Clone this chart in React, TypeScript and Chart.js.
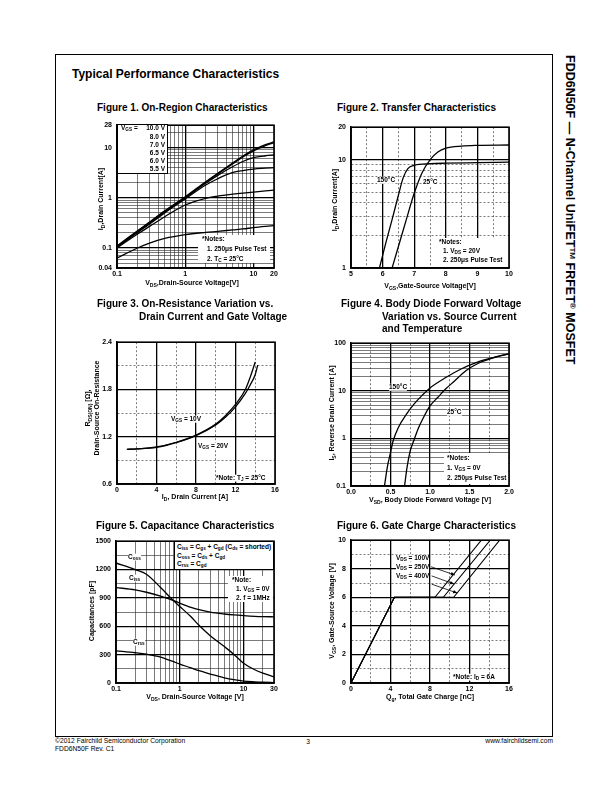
import React, { useEffect, useRef } from 'react';
import { Chart, registerables } from 'chart.js';

Chart.register(...registerables);

const FONT = '"Liberation Sans", Arial, Helvetica, sans-serif';
const YW = 34, PT = 8, PR = 12, XH = 14;

// ---------------- Figure 1: On-Region Characteristics ----------------
const f1X = [0.1, 0.2, 0.3, 0.5, 1, 2, 3, 5, 7, 10, 15, 20];
const f1Vgs100 = [0.11, 0.22, 0.33, 0.55, 1.05, 2.1, 3.1, 5.0, 6.8, 9.0, 11.5, 13.0];
const f1Vgs80 = [0.108, 0.215, 0.32, 0.53, 1.02, 2.05, 3.0, 4.8, 6.5, 8.6, 11.0, 12.5];
const f1Vgs70 = [0.106, 0.21, 0.31, 0.52, 1.0, 1.95, 2.8, 4.2, 5.3, 6.3, 6.9, 7.2];
const f1Vgs65 = [0.104, 0.205, 0.3, 0.5, 0.95, 1.8, 2.4, 3.2, 3.5, 3.75, 3.9, 4.0];
const f1Vgs60 = [0.1, 0.19, 0.27, 0.42, 0.72, 0.98, 1.08, 1.18, 1.24, 1.3, 1.37, 1.42];
const f1Vgs55 = [0.063, 0.1, 0.125, 0.155, 0.185, 0.205, 0.215, 0.23, 0.24, 0.255, 0.27, 0.28];
const f1LegendLabels = ['10.0 V', '8.0 V', '7.0 V', '6.5 V', '6.0 V', '5.5 V'];
const f1XGrid = [0.1, 0.2, 0.3, 0.4, 0.5, 0.6, 0.7, 0.8, 0.9, 1, 2, 3, 4, 5, 6, 7, 8, 9, 10, 20];
const f1XLabelVals = [0.1, 1, 10, 20];
const f1XLabels = ['0.1', '1', '10', '20'];
const f1YGrid = [0.04, 0.05, 0.06, 0.07, 0.08, 0.09, 0.1, 0.2, 0.3, 0.4, 0.5, 0.6, 0.7, 0.8, 0.9, 1, 2, 3, 4, 5, 6, 7, 8, 9, 10, 20, 28];
const f1YLabelVals = [0.04, 0.1, 1, 10, 28];
const f1YLabels = ['0.04', '0.1', '1', '10', '28'];

// ---------------- Figure 2: Transfer Characteristics ----------------
const f2X150 = [5.9, 6.1, 6.3, 6.5, 6.65, 6.8, 7.0, 7.5, 8.0, 9.0, 10.0];
const f2Y150 = [1.0, 1.7, 2.8, 4.7, 6.8, 8.3, 8.9, 9.2, 9.3, 9.4, 9.5];
const f2X25 = [6.3, 6.5, 6.75, 7.0, 7.25, 7.5, 7.75, 8.0, 8.5, 9.0, 10.0];
const f2Y25 = [1.0, 1.58, 2.8, 4.9, 7.6, 10.0, 11.8, 12.8, 13.4, 13.6, 13.7];
const f2XGrid = [5, 5.5, 6, 6.5, 7, 7.5, 8, 8.5, 9, 9.5, 10];
const f2XLabelVals = [5, 6, 7, 8, 9, 10];
const f2XLabels = ['5', '6', '7', '8', '9', '10'];
const f2YGrid = [1, 2, 3, 4, 5, 6, 7, 8, 9, 10, 20];
const f2YLabelVals = [1, 10, 20];
const f2YLabels = ['1', '10', '20'];

// ---------------- Figure 3: On-Resistance ----------------
const f3X10 = [1, 2, 4, 6, 8, 10, 11, 12, 13, 13.5, 14.0];
const f3Y10 = [1.04, 1.045, 1.07, 1.13, 1.22, 1.36, 1.47, 1.61, 1.8, 1.96, 2.15];
const f3X20 = [1, 2, 4, 6, 8, 10, 11, 12, 13, 13.5, 14.0, 14.25];
const f3Y20 = [1.04, 1.045, 1.065, 1.125, 1.215, 1.35, 1.45, 1.58, 1.75, 1.86, 1.99, 2.11];
const f3XGrid = [0, 2, 4, 6, 8, 10, 12, 14, 16];
const f3XLabelVals = [0, 4, 8, 12, 16];
const f3XLabels = ['0', '4', '8', '12', '16'];
const f3YGrid = [0.6, 0.9, 1.2, 1.5, 1.8, 2.1, 2.4];
const f3YLabelVals = [0.6, 1.2, 1.8, 2.4];
const f3YLabels = ['0.6', '1.2', '1.8', '2.4'];

// ---------------- Figure 4: Body Diode ----------------
const f4X150 = [0.424, 0.46, 0.5, 0.53, 0.6, 0.7, 0.8, 0.9, 1.0, 1.2, 1.4, 1.6, 1.8, 2.0];
const f4Y150 = [0.1, 0.25, 0.5, 0.85, 1.7, 3.2, 5.3, 8.0, 11.5, 19, 29, 40, 50, 60];
const f4X25 = [0.678, 0.71, 0.75, 0.8, 0.85, 0.9, 1.0, 1.1, 1.2, 1.3, 1.45, 1.6, 1.8, 2.0];
const f4Y25 = [0.1, 0.25, 0.55, 0.95, 1.6, 2.4, 4.8, 7.3, 11, 15.5, 26, 37, 49, 60];
const f4XGrid = [0, 0.25, 0.5, 0.75, 1, 1.25, 1.5, 1.75, 2];
const f4XLabelVals = [0, 0.5, 1, 1.5, 2];
const f4XLabels = ['0.0', '0.5', '1.0', '1.5', '2.0'];
const f4YGrid = [0.1, 0.2, 0.3, 0.4, 0.5, 0.6, 0.7, 0.8, 0.9, 1, 2, 3, 4, 5, 6, 7, 8, 9, 10, 20, 30, 40, 50, 60, 70, 80, 90, 100];
const f4YLabelVals = [0.1, 1, 10, 100];
const f4YLabels = ['0.1', '1', '10', '100'];

// ---------------- Figure 5: Capacitance ----------------
const f5X = [0.1, 0.2, 0.3, 0.5, 0.8, 1, 1.5, 2, 3, 5, 7, 10, 15, 20, 30];
const f5Coss = [1270, 1200, 1150, 1010, 870, 810, 700, 610, 500, 385, 305, 210, 140, 105, 65];
const f5Ciss = [1010, 985, 960, 920, 872, 845, 800, 775, 750, 730, 720, 712, 705, 702, 700];
const f5Crss = [340, 320, 305, 275, 225, 200, 160, 130, 95, 55, 35, 20, 12, 8, 5];
const f5XGrid = [0.1, 0.2, 0.3, 0.4, 0.5, 0.6, 0.7, 0.8, 0.9, 1, 2, 3, 4, 5, 6, 7, 8, 9, 10, 20, 30];
const f5XLabelVals = [0.1, 1, 10, 30];
const f5XLabels = ['0.1', '1', '10', '30'];
const f5YGrid = [0, 150, 300, 450, 600, 750, 900, 1050, 1200, 1350, 1500];
const f5YLabelVals = [0, 300, 600, 900, 1200, 1500];
const f5YLabels = ['0', '300', '600', '900', '1200', '1500'];

// ---------------- Figure 6: Gate Charge ----------------
const f6X100 = [0, 4.4, 8.5, 13.2];
const f6X250 = [0, 4.4, 9.35, 14.1];
const f6X400 = [0, 4.4, 10.4, 15.05];
const f6Y = [0, 6, 6, 10];
const f6ArrowFromX = [8.1, 8.17, 8.17];
const f6ArrowFromY = [8.14, 7.5, 6.92];
const f6ArrowToX = [10.53, 10.44, 10.76];
const f6ArrowToY = [7.56, 6.93, 6.3];
const f6XGrid = [0, 2, 4, 6, 8, 10, 12, 14, 16];
const f6XLabelVals = [0, 4, 8, 12, 16];
const f6XLabels = ['0', '4', '8', '12', '16'];
const f6YGrid = [0, 1, 2, 3, 4, 5, 6, 7, 8, 9, 10];
const f6YLabelVals = [0, 2, 4, 6, 8, 10];
const f6YLabels = ['0', '2', '4', '6', '8', '10'];

// ---------------- helpers ----------------
type AxisSpec = {
  type: 'linear' | 'logarithmic';
  min: number; max: number;
  grid: number[]; labelVals: number[]; labels: string[];
  majors: number[]; dash: boolean;
};

const near = (a: number, b: number) => Math.abs(a - b) <= 1e-9 * Math.max(1, Math.abs(a), Math.abs(b));
const pts = (xs: number[], ys: number[]) => xs.map((x, i) => ({ x, y: ys[i] }));

function scaleOpts(a: AxisSpec, horizontal: boolean) {
  const isMajor = (v: number) => a.majors.some((m) => near(m, v));
  const isEdge = (v: number) => near(v, a.min) || near(v, a.max);
  return {
    type: a.type,
    min: a.min,
    max: a.max,
    afterBuildTicks: (s: any) => { s.ticks = a.grid.map((v) => ({ value: v })); },
    afterFit: (s: any) => { if (horizontal) s.height = XH; else s.width = YW; },
    ticks: {
      autoSkip: false, maxRotation: 0, minRotation: 0,
      padding: horizontal ? 2 : 5,
      color: '#000',
      font: { family: FONT, size: 7, weight: 'bold' },
      callback: (v: number) => {
        const i = a.labelVals.findIndex((l) => near(l, v));
        return i >= 0 ? a.labels[i] : '';
      },
    },
    grid: {
      drawTicks: false,
      color: (c: any) => (c.tick && (isMajor(c.tick.value) || isEdge(c.tick.value)) ? '#000' : '#222'),
      lineWidth: (c: any) => (c.tick && isMajor(c.tick.value) ? 1.3 : 0.6),
    },
    border: {
      display: true, color: '#000', width: 1.5,
      dash: (c: any) => (a.dash && c.tick && !isMajor(c.tick.value) && !isEdge(c.tick.value) ? [2, 2] : []),
    },
  };
}

const framePlugin = {
  id: 'frame',
  afterDraw(chart: any) {
    const { ctx, chartArea: a } = chart;
    ctx.save();
    ctx.strokeStyle = '#000';
    ctx.lineWidth = 1.6;
    ctx.strokeRect(a.left, a.top, a.right - a.left, a.bottom - a.top);
    ctx.restore();
  },
};

const arrowPlugin = {
  id: 'arrows',
  afterDatasetsDraw(chart: any) {
    const { ctx, scales } = chart;
    ctx.save();
    ctx.strokeStyle = '#000';
    ctx.fillStyle = '#000';
    ctx.lineWidth = 0.8;
    for (let i = 0; i < f6ArrowFromX.length; i++) {
      const x0 = scales.x.getPixelForValue(f6ArrowFromX[i]);
      const y0 = scales.y.getPixelForValue(f6ArrowFromY[i]);
      const x1 = scales.x.getPixelForValue(f6ArrowToX[i]);
      const y1 = scales.y.getPixelForValue(f6ArrowToY[i]);
      ctx.beginPath(); ctx.moveTo(x0, y0); ctx.lineTo(x1, y1); ctx.stroke();
      const ang = Math.atan2(y1 - y0, x1 - x0);
      const h = 4.5;
      ctx.beginPath();
      ctx.moveTo(x1, y1);
      ctx.lineTo(x1 - h * Math.cos(ang - 0.4), y1 - h * Math.sin(ang - 0.4));
      ctx.lineTo(x1 - h * Math.cos(ang + 0.4), y1 - h * Math.sin(ang + 0.4));
      ctx.closePath(); ctx.fill();
    }
    ctx.restore();
  },
};

type Series = { xs: number[]; ys: number[]; w?: number };

function Plot(props: { rect: number[]; x: AxisSpec; y: AxisSpec; series: Series[]; smooth?: boolean; extra?: any[] }) {
  const ref = useRef<HTMLCanvasElement>(null);
  const [L, T, R, B] = props.rect;
  const W = R - L + YW + PR;
  const H = B - T + PT + XH;
  useEffect(() => {
    const smooth = props.smooth !== false;
    const chart = new Chart(ref.current as HTMLCanvasElement, {
      type: 'scatter',
      data: {
        datasets: props.series.map((s) => ({
          data: pts(s.xs, s.ys),
          showLine: true,
          borderColor: '#000',
          backgroundColor: '#000',
          borderWidth: s.w ?? 1.3,
          pointRadius: 0,
          pointHoverRadius: 0,
          fill: false,
          cubicInterpolationMode: smooth ? 'monotone' : 'default',
          tension: 0,
        })),
      },
      options: {
        animation: false,
        responsive: false,
        devicePixelRatio: 1,
        events: [],
        layout: { padding: { left: 0, top: PT, right: PR, bottom: 0 } },
        plugins: { legend: { display: false }, tooltip: { enabled: false } },
        scales: { x: scaleOpts(props.x, true), y: scaleOpts(props.y, false) } as any,
      },
      plugins: [framePlugin, ...(props.extra || [])],
    } as any);
    return () => chart.destroy();
  }, []);
  return (
    <canvas
      ref={ref}
      width={W}
      height={H}
      style={{ position: 'absolute', left: L - YW, top: T - PT, width: W, height: H }}
    />
  );
}

const Sb = ({ c }: { c: string }) => (
  <span style={{ fontSize: '0.72em', position: 'relative', top: '0.3em' }}>{c}</span>
);
const Sp = ({ c }: { c: string }) => (
  <span style={{ fontSize: '0.65em', position: 'relative', top: '-0.45em' }}>{c}</span>
);

function Txt(props: { x: number; y: number; size?: number; bold?: boolean; align?: 'left' | 'center' | 'right'; bg?: string; rot?: boolean; children: any }) {
  const { x, y, size = 6.5, bold = true, align = 'left', bg, rot } = props;
  const tx = align === 'left' ? '0' : align === 'center' ? '-50%' : '-100%';
  return (
    <div
      style={{
        position: 'absolute', left: x, top: y,
        transform: rot ? 'translate(-50%, -50%) rotate(-90deg)' : `translate(${tx}, -50%)`,
        fontFamily: FONT, fontSize: size, fontWeight: bold ? 700 : 400,
        lineHeight: 1, whiteSpace: 'nowrap', color: '#000', background: bg,
      }}
    >
      {props.children}
    </div>
  );
}

function Box(props: { x: number; y: number; w: number; h: number; border?: boolean }) {
  return (
    <div
      style={{
        position: 'absolute', left: props.x, top: props.y, width: props.w, height: props.h,
        boxSizing: 'border-box', background: '#fff',
        border: props.border ? '1px solid #000' : 'none',
      }}
    />
  );
}

const Title = (p: { x: number; y: number; children: any }) => (
  <Txt x={p.x} y={p.y} size={10}>{p.children}</Txt>
);
const AxT = (p: { x: number; y: number; rot?: boolean; children: any }) => (
  <Txt x={p.x} y={p.y} size={7} align="center" rot={p.rot}>{p.children}</Txt>
);

export default function App() {
  const f1Rows = [128, 137, 145, 153, 161, 169];
  return (
    <div style={{ position: 'absolute', left: 0, top: 0, width: 612, height: 792, background: '#fff', overflow: 'hidden' }}>
      {/* page frame */}
      <div style={{ position: 'absolute', left: 55, top: 54, width: 498, height: 683, boxSizing: 'border-box', border: '1.2px solid #000' }} />
      <Txt x={72} y={74} size={12}>Typical Performance Characteristics</Txt>

      {/* side text */}
      <div
        style={{
          position: 'absolute', left: 576, top: 55, transformOrigin: '0 0', transform: 'rotate(90deg)',
          fontFamily: FONT, fontSize: 12.5, fontWeight: 700, lineHeight: 1, whiteSpace: 'nowrap', color: '#000',
        }}
      >
        FDD6N50F — N-Channel UniFET<Sp c="TM" /> FRFET<Sp c="®" /> MOSFET
      </div>

      {/* footer */}
      <Txt x={55} y={741} size={6.7} bold={false}>©2012 Fairchild Semiconductor Corporation</Txt>
      <Txt x={55} y={749} size={6.7} bold={false}>FDD6N50F Rev. C1</Txt>
      <Txt x={308} y={742} size={6.7} bold={false} align="center">3</Txt>
      <Txt x={553} y={741} size={6.7} bold={false} align="right">www.fairchildsemi.com</Txt>

      {/* ---------- Figure 1 ---------- */}
      <Title x={97} y={108}>Figure 1. On-Region Characteristics</Title>
      <Plot
        rect={[117, 124, 274, 268]}
        x={{ type: 'logarithmic', min: 0.1, max: 20, grid: f1XGrid, labelVals: f1XLabelVals, labels: f1XLabels, majors: [1, 10], dash: false }}
        y={{ type: 'logarithmic', min: 0.04, max: 28, grid: f1YGrid, labelVals: f1YLabelVals, labels: f1YLabels, majors: [0.1, 1, 10], dash: false }}
        series={[
          { xs: f1X, ys: f1Vgs100 }, { xs: f1X, ys: f1Vgs80 }, { xs: f1X, ys: f1Vgs70 },
          { xs: f1X, ys: f1Vgs65 }, { xs: f1X, ys: f1Vgs60 }, { xs: f1X, ys: f1Vgs55 },
        ]}
      />
      <Box x={117} y={124} w={51} h={50} border />
      <Txt x={121} y={f1Rows[0]}>V<Sb c="GS" /> =</Txt>
      {f1LegendLabels.map((l, i) => (
        <Txt key={l} x={165} y={f1Rows[i]} align="right">{l}</Txt>
      ))}
      <Box x={198} y={235} w={72} h={28} />
      <Txt x={202} y={239}>*Notes:</Txt>
      <Txt x={207} y={249}>1. 250μs Pulse Test</Txt>
      <Txt x={207} y={259}>2. T<Sb c="C" /> = 25°C</Txt>
      <AxT x={101} y={199} rot>I<Sb c="D" />,Drain Current[A]</AxT>
      <AxT x={192} y={283}>V<Sb c="DS" />,Drain-Source Voltage[V]</AxT>

      {/* ---------- Figure 2 ---------- */}
      <Title x={337} y={108}>Figure 2. Transfer Characteristics</Title>
      <Plot
        rect={[351, 126, 509, 268]}
        x={{ type: 'linear', min: 5, max: 10, grid: f2XGrid, labelVals: f2XLabelVals, labels: f2XLabels, majors: [6, 7, 8, 9], dash: true }}
        y={{ type: 'logarithmic', min: 1, max: 20, grid: f2YGrid, labelVals: f2YLabelVals, labels: f2YLabels, majors: [10], dash: true }}
        series={[{ xs: f2X150, ys: f2Y150 }, { xs: f2X25, ys: f2Y25 }]}
      />
      <Txt x={377} y={180} bg="#fff">150°C</Txt>
      <Txt x={423} y={182} bg="#fff">25°C</Txt>
      <Box x={437} y={238} w={71} h={29} />
      <Txt x={439} y={242}>*Notes:</Txt>
      <Txt x={443} y={251}>1. V<Sb c="DS" /> = 20V</Txt>
      <Txt x={443} y={260}>2. 250μs Pulse Test</Txt>
      <AxT x={335} y={200} rot>I<Sb c="D" />,Drain Current[A]</AxT>
      <AxT x={430} y={286}>V<Sb c="GS" />,Gate-Source Voltage[V]</AxT>

      {/* ---------- Figure 3 ---------- */}
      <Title x={97} y={304}>Figure 3. On-Resistance Variation vs.</Title>
      <Title x={139} y={317}>Drain Current and Gate Voltage</Title>
      <Plot
        rect={[117, 341, 275, 484]}
        x={{ type: 'linear', min: 0, max: 16, grid: f3XGrid, labelVals: f3XLabelVals, labels: f3XLabels, majors: [4, 8, 12], dash: true }}
        y={{ type: 'linear', min: 0.6, max: 2.4, grid: f3YGrid, labelVals: f3YLabelVals, labels: f3YLabels, majors: [1.2, 1.8], dash: true }}
        series={[{ xs: f3X10, ys: f3Y10 }, { xs: f3X20, ys: f3Y20 }]}
      />
      <Txt x={171} y={419} bg="#fff">V<Sb c="GS" /> = 10V</Txt>
      <Txt x={198} y={446} bg="#fff">V<Sb c="GS" /> = 20V</Txt>
      <Txt x={216} y={478} bg="#fff">*Note: T<Sb c="J" /> = 25°C</Txt>
      <AxT x={87.5} y={408} rot>R<Sb c="DS(ON)" /> [Ω],</AxT>
      <AxT x={96} y={408} rot>Drain-Source On-Resistance</AxT>
      <AxT x={195} y={497}>I<Sb c="D" />, Drain Current [A]</AxT>

      {/* ---------- Figure 4 ---------- */}
      <Title x={341} y={304}>Figure 4. Body Diode Forward Voltage</Title>
      <Title x={382} y={317}>Variation vs. Source Current</Title>
      <Title x={382} y={329}>and Temperature</Title>
      <Plot
        rect={[351, 342, 509, 486]}
        x={{ type: 'linear', min: 0, max: 2, grid: f4XGrid, labelVals: f4XLabelVals, labels: f4XLabels, majors: [0.5, 1, 1.5], dash: true }}
        y={{ type: 'logarithmic', min: 0.1, max: 100, grid: f4YGrid, labelVals: f4YLabelVals, labels: f4YLabels, majors: [1, 10], dash: false }}
        series={[{ xs: f4X150, ys: f4Y150 }, { xs: f4X25, ys: f4Y25 }]}
      />
      <Txt x={389} y={387} bg="#fff">150°C</Txt>
      <Txt x={447} y={412} bg="#fff">25°C</Txt>
      <Box x={444} y={453} w={64} h={31} />
      <Txt x={447} y={458}>*Notes:</Txt>
      <Txt x={447} y={468}>1. V<Sb c="GS" /> = 0V</Txt>
      <Txt x={447} y={478}>2. 250μs Pulse Test</Txt>
      <AxT x={332} y={413} rot>I<Sb c="S" />, Reverse Drain Current [A]</AxT>
      <AxT x={430} y={500}>V<Sb c="SD" />, Body Diode Forward Voltage [V]</AxT>

      {/* ---------- Figure 5 ---------- */}
      <Title x={96} y={526}>Figure 5. Capacitance Characteristics</Title>
      <Plot
        rect={[116, 540, 274, 683]}
        x={{ type: 'logarithmic', min: 0.1, max: 30, grid: f5XGrid, labelVals: f5XLabelVals, labels: f5XLabels, majors: [1, 10], dash: false }}
        y={{ type: 'linear', min: 0, max: 1500, grid: f5YGrid, labelVals: f5YLabelVals, labels: f5YLabels, majors: [300, 600, 900, 1200], dash: false }}
        series={[{ xs: f5X, ys: f5Coss }, { xs: f5X, ys: f5Ciss }, { xs: f5X, ys: f5Crss }]}
      />
      <Box x={174} y={541} w={100} h={29} border />
      <Txt x={177} y={547}>C<Sb c="iss" /> = C<Sb c="gs" /> + C<Sb c="gd" /> (C<Sb c="ds" /> = shorted)</Txt>
      <Txt x={177} y={555.5}>C<Sb c="oss" /> = C<Sb c="ds" /> + C<Sb c="gd" /></Txt>
      <Txt x={177} y={564}>C<Sb c="rss" /> = C<Sb c="gd" /></Txt>
      <Box x={228} y={576} w={45} h={26} />
      <Txt x={232} y={580}>*Note:</Txt>
      <Txt x={236} y={589}>1. V<Sb c="GS" /> = 0V</Txt>
      <Txt x={236} y={598}>2. f = 1MHz</Txt>
      <Txt x={128} y={557} bg="#fff">C<Sb c="oss" /></Txt>
      <Txt x={129} y={578} bg="#fff">C<Sb c="iss" /></Txt>
      <Txt x={133} y={642} bg="#fff">C<Sb c="rss" /></Txt>
      <AxT x={91} y={611} rot>Capacitances [pF]</AxT>
      <AxT x={195} y={697}>V<Sb c="DS" />, Drain-Source Voltage [V]</AxT>

      {/* ---------- Figure 6 ---------- */}
      <Title x={337} y={526}>Figure 6. Gate Charge Characteristics</Title>
      <Plot
        rect={[351, 539, 509, 683]}
        x={{ type: 'linear', min: 0, max: 16, grid: f6XGrid, labelVals: f6XLabelVals, labels: f6XLabels, majors: [4, 8, 12], dash: true }}
        y={{ type: 'linear', min: 0, max: 10, grid: f6YGrid, labelVals: f6YLabelVals, labels: f6YLabels, majors: [2, 4, 6, 8], dash: true }}
        series={[{ xs: f6X100, ys: f6Y, w: 1.1 }, { xs: f6X250, ys: f6Y, w: 1.1 }, { xs: f6X400, ys: f6Y, w: 1.1 }]}
        smooth={false}
        extra={[arrowPlugin]}
      />
      <Txt x={396} y={558} bg="#fff">V<Sb c="DS" /> = 100V</Txt>
      <Txt x={396} y={567} bg="#fff">V<Sb c="DS" /> = 250V</Txt>
      <Txt x={396} y={576} bg="#fff">V<Sb c="DS" /> = 400V</Txt>
      <Txt x={453} y={677} bg="#fff">*Note: I<Sb c="D" /> = 6A</Txt>
      <AxT x={332} y={611} rot>V<Sb c="GS" />, Gate-Source Voltage [V]</AxT>
      <AxT x={430} y={697}>Q<Sb c="g" />, Total Gate Charge [nC]</AxT>
    </div>
  );
}
